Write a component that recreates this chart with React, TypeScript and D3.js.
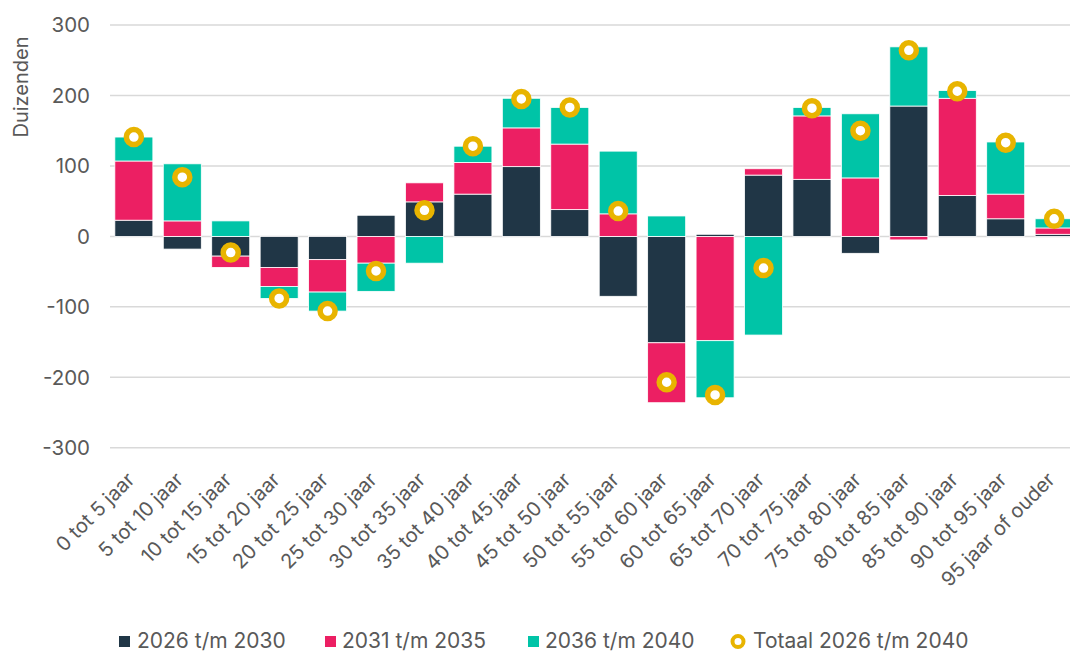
import React from "react";
import * as d3 from "d3";

const categories = [
  "0 tot 5 jaar", "5 tot 10 jaar", "10 tot 15 jaar", "15 tot 20 jaar", "20 tot 25 jaar",
  "25 tot 30 jaar", "30 tot 35 jaar", "35 tot 40 jaar", "40 tot 45 jaar", "45 tot 50 jaar",
  "50 tot 55 jaar", "55 tot 60 jaar", "60 tot 65 jaar", "65 tot 70 jaar", "70 tot 75 jaar",
  "75 tot 80 jaar", "80 tot 85 jaar", "85 tot 90 jaar", "90 tot 95 jaar", "95 jaar of ouder",
];
const s2026_2030 = [23, -18, -28, -44, -33, 30, 49, 60, 99, 38, -85, -151, 3, 87, 81, -24, 185, 58, 25, 3];
const s2031_2035 = [84, 22, -16, -27, -46, -38, 27, 45, 55, 93, 32, -85, -148, 9, 90, 83, -5, 138, 35, 9];
const s2036_2040 = [34, 81, 22, -17, -27, -40, -38, 23, 42, 52, 89, 29, -81, -140, 12, 91, 84, 11, 74, 13];
const totaal = [141, 84, -23, -88, -106, -49, 37, 128, 195, 183, 36, -207, -225, -45, 182, 150, 264, 206, 133, 25];
const yTicks = [300, 200, 100, 0, -100, -200, -300];

const seriesNames = ["2026 t/m 2030", "2031 t/m 2035", "2036 t/m 2040"];
const seriesValues = [s2026_2030, s2031_2035, s2036_2040];
const colors = ["#203646", "#EC1F63", "#00C4A7"];
const yellow = "#E8B400";
const textColor = "#595959";
const font = "Inter, 'Noto Sans', sans-serif";

export default function App() {
  const width = 1070;
  const height = 652;
  const x = d3.scaleBand<string>().domain(categories).range([110, 1078]).paddingInner(0.215).paddingOuter(0.1);
  const y = d3.scaleLinear().domain([-300, 300]).range([447.8, 25]);

  const bars: React.ReactNode[] = [];
  categories.forEach((c, i) => {
    let pos = 0;
    let neg = 0;
    seriesValues.forEach((vals, s) => {
      const v = vals[i];
      let y0: number, y1: number;
      if (v >= 0) {
        y0 = pos;
        y1 = pos + v;
        pos = y1;
      } else {
        y0 = neg;
        y1 = neg + v;
        neg = y1;
      }
      const top = y(Math.max(y0, y1));
      const bot = y(Math.min(y0, y1));
      bars.push(
        <rect
          key={`${c}-${s}`}
          x={x(c)}
          y={top}
          width={x.bandwidth()}
          height={Math.max(0, bot - top)}
          fill={colors[s]}
          stroke="#ffffff"
          strokeWidth={0.8}
        />
      );
    });
  });

  const legendItems = [
    { label: seriesNames[0], x: 119, tx: 137, type: "rect", color: colors[0] },
    { label: seriesNames[1], x: 325, tx: 342, type: "rect", color: colors[1] },
    { label: seriesNames[2], x: 528, tx: 545, type: "rect", color: colors[2] },
    { label: "Totaal 2026 t/m 2040", x: 738, tx: 753, type: "circle", color: yellow },
  ];

  return (
    <svg width={width} height={height} style={{ position: "absolute", left: 0, top: 0, background: "#fff" }}>
      <rect x={0} y={0} width={width} height={height} fill="#ffffff" />
      {yTicks.map((t) => (
        <g key={t}>
          <line x1={110} x2={1070} y1={y(t)} y2={y(t)} stroke="#D9D9D9" strokeWidth={1.5} />
          <text x={90} y={y(t)} dy="0.35em" textAnchor="end" fontSize={20.5} fill={textColor} fontFamily={font}>
            {t}
          </text>
        </g>
      ))}
      <text
        transform={`translate(28, 87) rotate(-90)`}
        textAnchor="middle"
        fontSize={20}
        fill={textColor}
        fontFamily={font}
      >
        Duizenden
      </text>
      {bars}
      {categories.map((c, i) => (
        <circle
          key={`tot-${c}`}
          cx={(x(c) as number) + x.bandwidth() / 2}
          cy={y(totaal[i])}
          r={7.5}
          fill="#ffffff"
          stroke={yellow}
          strokeWidth={5.5}
        />
      ))}
      {categories.map((c) => {
        const cx = (x(c) as number) + x.bandwidth() / 2 + 2;
        return (
          <text
            key={`lab-${c}`}
            transform={`translate(${cx}, 481) rotate(-45)`}
            textAnchor="end"
            fontSize={20}
            fill={textColor}
            fontFamily={font}
          >
            {c}
          </text>
        );
      })}
      {legendItems.map((it) => (
        <g key={it.label}>
          {it.type === "rect" ? (
            <rect x={it.x} y={636} width={11} height={11} fill={it.color} />
          ) : (
            <circle cx={it.x} cy={641.5} r={5.5} fill="#ffffff" stroke={it.color} strokeWidth={4} />
          )}
          <text x={it.tx} y={647.5} fontSize={21} fill={textColor} fontFamily={font}>
            {it.label}
          </text>
        </g>
      ))}
    </svg>
  );
}
